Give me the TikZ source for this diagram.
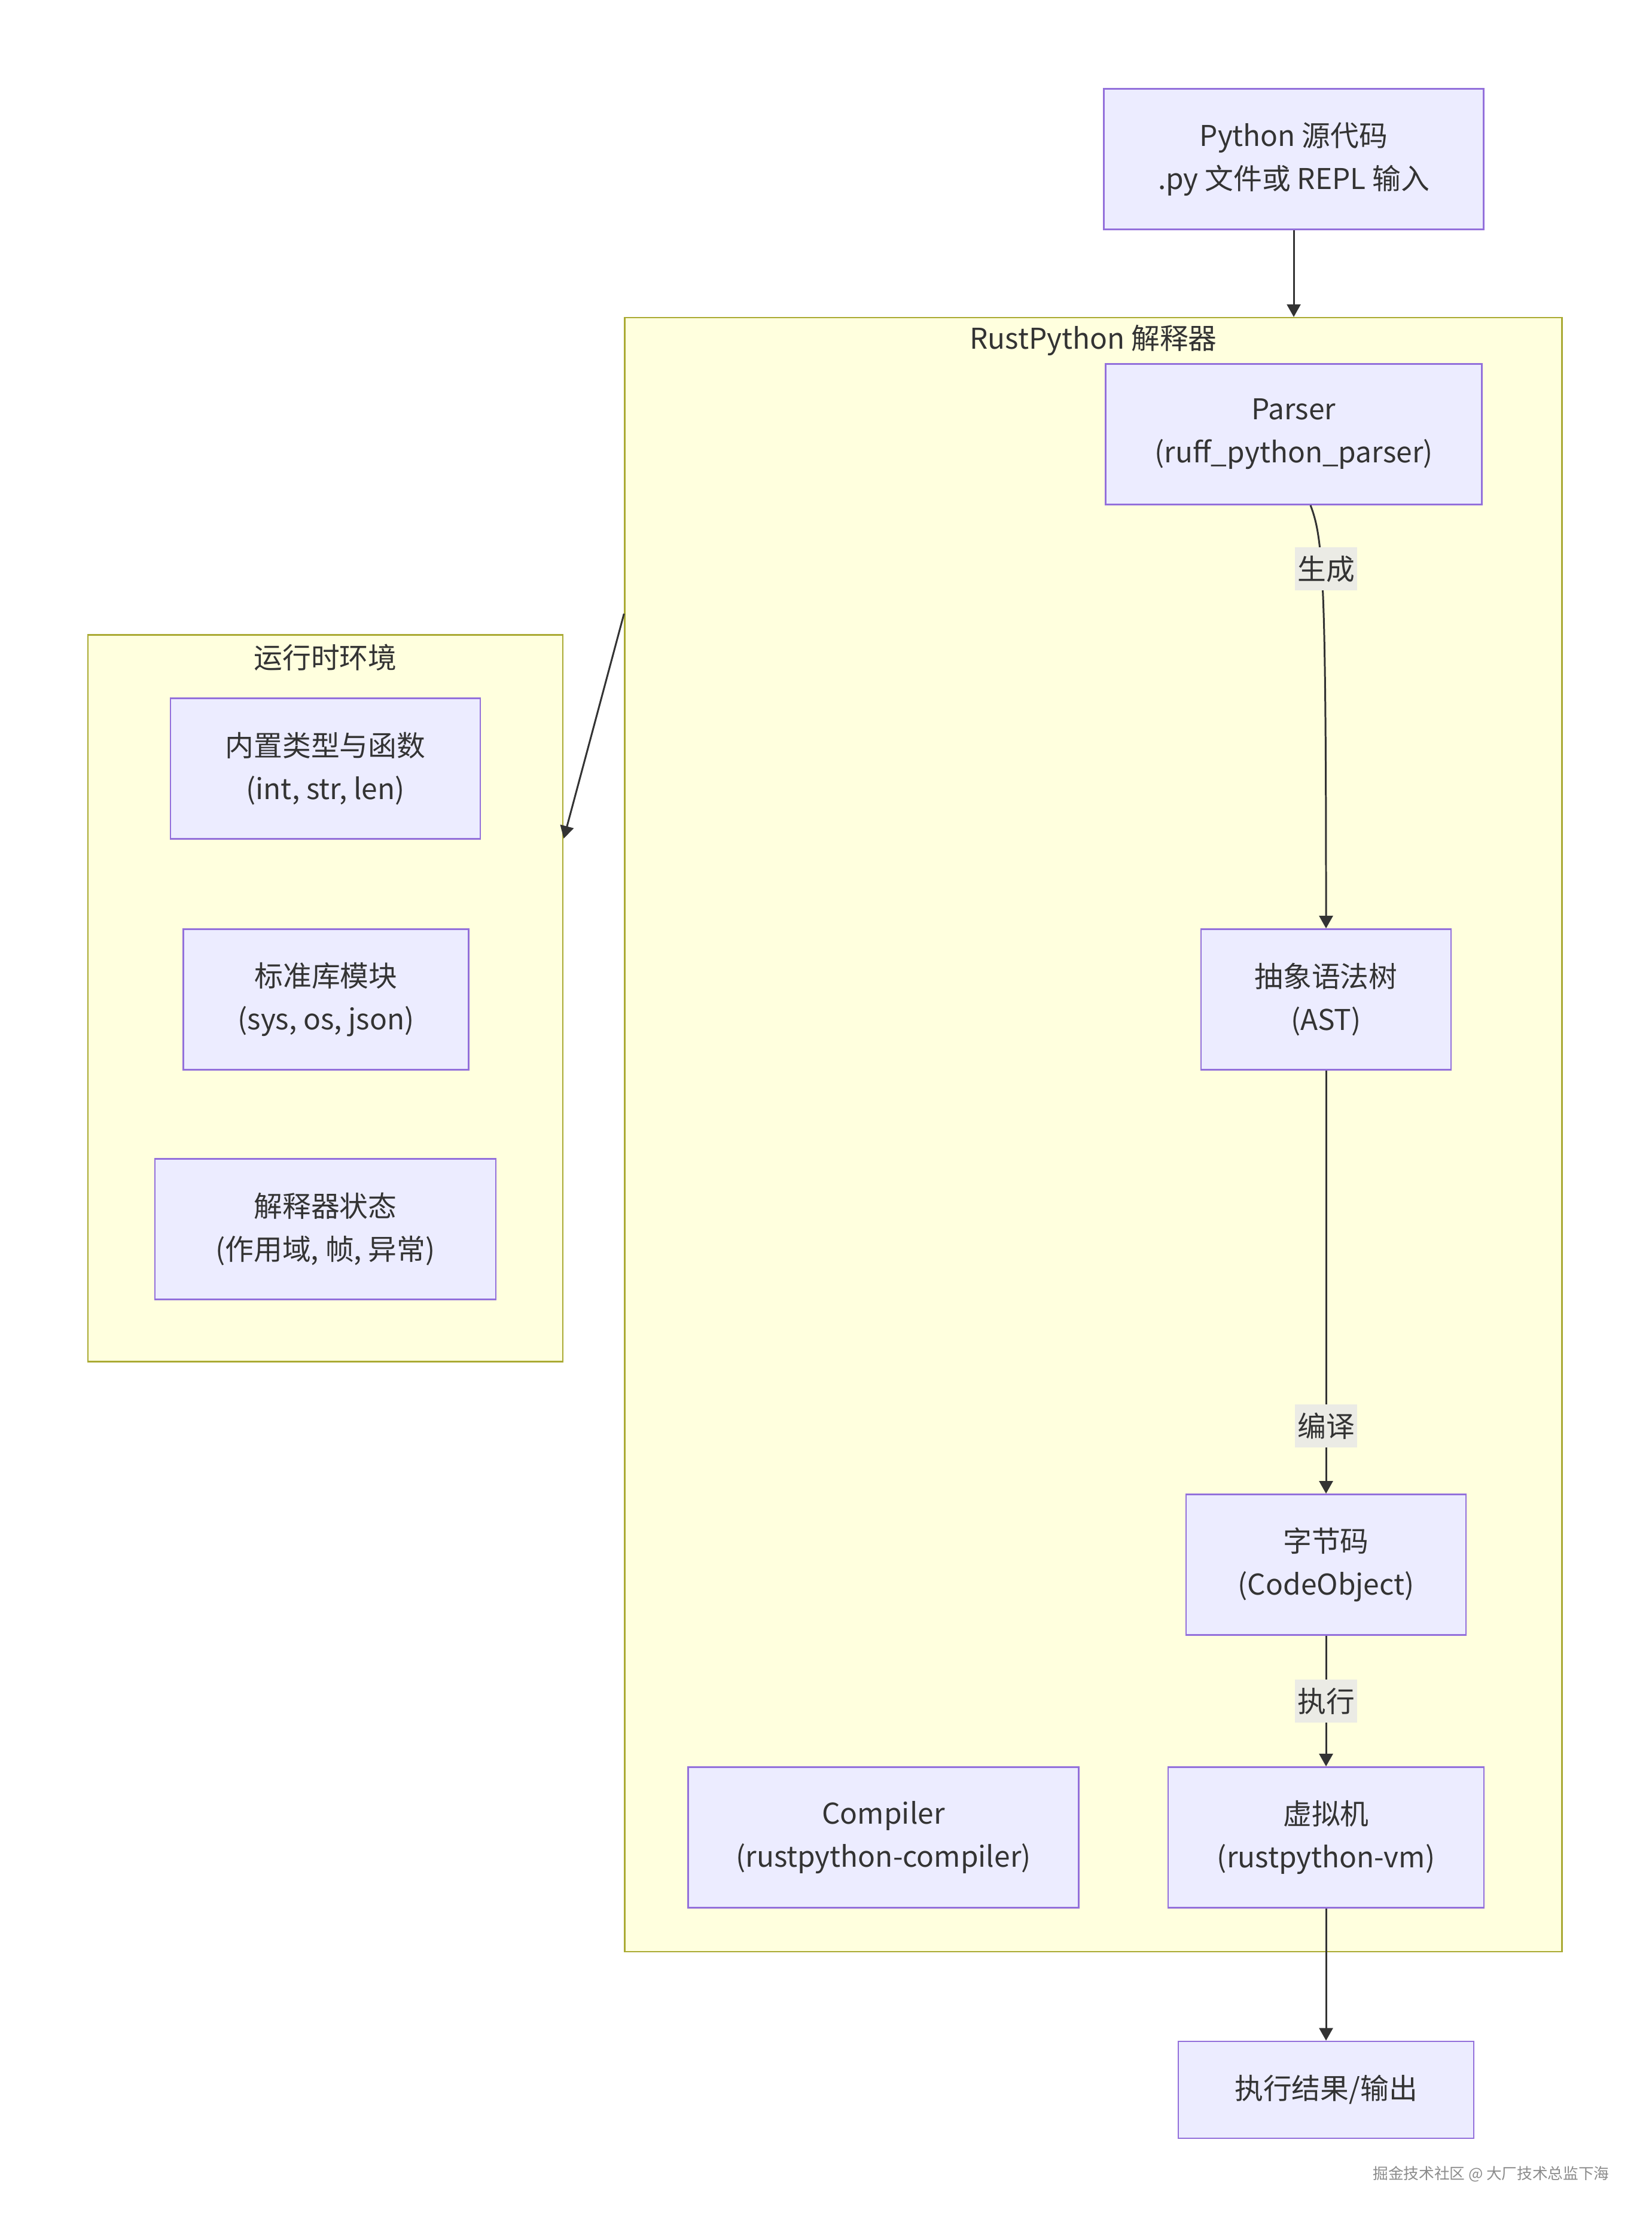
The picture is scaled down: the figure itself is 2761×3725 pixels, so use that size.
\documentclass[tikz,border=0pt]{standalone}
\usepackage{fontspec}
\setmainfont{Noto Sans CJK SC}
\definecolor{nodefill}{HTML}{ECECFF}
\definecolor{nodeline}{HTML}{9370DB}
\definecolor{clusterfill}{HTML}{FFFFDE}
\definecolor{clusterline}{HTML}{AAAA33}
\definecolor{labelfill}{HTML}{EBEBE5}
\definecolor{inktext}{HTML}{333333}
\usetikzlibrary{arrows.meta, positioning, calc}

\begin{document}
\begin{tikzpicture}[x=0.01cm, y=-0.01cm, font=\fontsize{13.6}{20.5}\selectfont, text=inktext,
    blk/.style={draw=nodeline, fill=nodefill, line width=0.7pt, align=center, minimum height=2.35cm, inner sep=0pt},
    cluster/.style={draw=clusterline, fill=clusterfill, line width=0.7pt, inner sep=0pt},
    flow/.style={draw=inktext, line width=0.85pt, -{Triangle[length=6pt, width=6.5pt]}},
    elabel/.style={fill=labelfill, inner xsep=1.2pt, inner ysep=4pt}]
        \fill[white] (0,0) rectangle (2761,3725);
        \useasboundingbox (0,0) rectangle (2761,3725);

        \node[cluster, minimum width=15.66cm, minimum height=27.30cm] (rust) at (1828,1897) {};
        \node (rusttitle) at (1828,569) {RustPython 解释器};
        \node[cluster, minimum width=7.94cm, minimum height=12.14cm] (env) at (544,1669) {};
        \node (envtitle) at (544,1099) {运行时环境};

        \node[blk, minimum width=6.35cm] (src) at (2163,266) {Python 源代码\\.py 文件或 REPL 输入};
        \node[blk, minimum width=6.29cm] (parser) at (2163,726) {Parser\\(ruff\_python\_parser)};
        \node[blk, minimum width=4.18cm] (ast) at (2217,1671) {抽象语法树\\(AST)};
        \node[blk, minimum width=4.68cm] (bytecode) at (2217,2616) {字节码\\(CodeObject)};
        \node[blk, minimum width=5.28cm] (vm) at (2217,3072) {虚拟机\\(rustpython-vm)};
        \node[blk, minimum width=6.53cm] (compiler) at (1477,3072) {Compiler\\(rustpython-compiler)};
        \node[blk, minimum width=4.94cm, minimum height=1.62cm] (out) at (2217,3494) {执行结果/输出};

        \node[blk, minimum width=5.18cm] (builtin) at (544,1285) {内置类型与函数\\(int, str, len)};
        \node[blk, minimum width=4.77cm] (stdlib) at (545,1671) {标准库模块\\(sys, os, json)};
        \node[blk, minimum width=5.70cm] (state) at (544,2055) {解释器状态\\(作用域, 帧, 异常)};

        \draw[flow] (src) -- (src |- rust.north);
        \draw[flow] ([xshift=0.28cm]parser.south) .. controls (2212,900) and (2217,960) .. (ast.north);
        \node[elabel] (lgen) at (2217,951) {生成};
        \draw[flow] (ast) -- node[elabel, pos=0.84] (lcomp) {编译} (bytecode);
        \draw[flow] (bytecode) -- node[elabel, pos=0.5] (lrun) {执行} (vm);
        \draw[flow] (vm) -- (out);
        \draw[flow] (rust.west |- 0,1026) -- (env.east |- 0,1402);

        \node[text=black!45, font=\fontsize{7.3}{9}\selectfont] (mark) at (2493,3635) {掘金技术社区 @ 大厂技术总监下海};
\end{tikzpicture}
\end{document}
